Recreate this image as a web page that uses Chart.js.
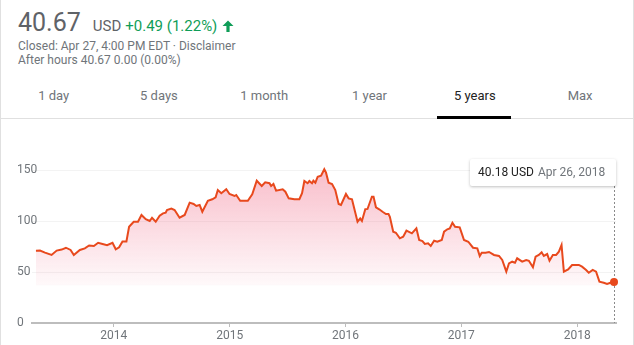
<!DOCTYPE html>
<html lang="en">
<head>
<meta charset="UTF-8">
<title>Stock price - 5 years</title>
<style>
  body { margin: 0; background: #fff; font-family: Roboto, Arial, sans-serif; }
  .card { position: relative; width: 632px; height: 345px; border-left: 1px solid #e0e0e0; border-right: 1px solid #e0e0e0; overflow: hidden; }
  .quote { position: absolute; left: 17px; top: 7px; line-height: 32px; white-space: nowrap; }
  .quote .price { font-size: 25px; color: #5f6368; }
  .quote .cur { font-size: 15px; color: #5f6368; margin-left: 12px; }
  .quote .chg { font-size: 15px; color: #0f9d58; margin-left: 4px; }
  .quote svg { vertical-align: -1px; margin-left: 5px; }
  .meta { position: absolute; left: 17px; top: 38.6px; font-size: 12px; line-height: 14.5px; color: #70757a; white-space: nowrap; }
  .tabs { position: absolute; left: 0; top: 76px; width: 632px; height: 40px; display: flex; }
  .tabs div { width: 105.3px; text-align: center; font-size: 13px; line-height: 40px; color: #70757a; }
  .tabs div.on { color: #222; }
  .underline { position: absolute; left: 436px; top: 116px; width: 74px; height: 3px; background: #000; }
  .divider { position: absolute; left: 0; top: 118px; width: 632px; height: 1px; background: #e0e0e0; }
  #chart-wrap { position: absolute; left: -1px; top: 125px; width: 634px; height: 220px; }
  .tip { position: absolute; left: 469px; top: 159px; width: 146px; height: 27px; background: #fff; border-radius: 2px;
         box-shadow: 0 1px 3px rgba(0,0,0,0.25); font-size: 12px; line-height: 27px; white-space: nowrap; box-sizing: border-box; padding-left: 8px; }
  .tip .v { color: #222; }
  .tip .d { color: #70757a; margin-left: 4px; }
</style>
<script src="https://cdn.jsdelivr.net/npm/chart.js@4"></script>
</head>
<body>
<div class="card">
  <div class="quote">
    <span class="price">40.67</span><span class="cur">USD</span><span class="chg">+0.49 (1.22%)</span><svg width="12" height="12" viewBox="0 0 12 12"><path fill="#0f9d58" d="M6 0.5L11.5 6H7.6V12H4.4V6H0.5Z"/></svg>
  </div>
  <div class="meta">
    <div>Closed: Apr 27, 4:00 PM EDT · Disclaimer</div>
    <div>After hours 40.67 0.00 (0.00%)</div>
  </div>
  <div class="tabs">
    <div>1 day</div><div>5 days</div><div>1 month</div><div>1 year</div><div class="on">5 years</div><div>Max</div>
  </div>
  <div class="divider"></div>
  <div class="underline"></div>
  <div id="chart-wrap"><canvas id="chart"></canvas></div>
  <div class="tip" id="tip"><span class="v">40.18 USD</span><span class="d">Apr 26, 2018</span></div>
</div>

<script>
  // dates as decimal years
  const years = [
    2013.328, 2013.363, 2013.406, 2013.463, 2013.507, 2013.550, 2013.587, 2013.627, 2013.655, 2013.707,
    2013.750, 2013.787, 2013.828, 2013.865, 2013.903, 2013.942, 2013.989, 2014.017, 2014.046, 2014.075,
    2014.109, 2014.132, 2014.172, 2014.209, 2014.239, 2014.276, 2014.310, 2014.330, 2014.362, 2014.396,
    2014.425, 2014.448, 2014.459, 2014.497, 2014.525, 2014.568, 2014.612, 2014.655, 2014.689, 2014.712,
    2014.741, 2014.764, 2014.812, 2014.850, 2014.879, 2014.898, 2014.928, 2014.971, 2014.999, 2015.042,
    2015.057, 2015.091, 2015.157, 2015.195, 2015.234, 2015.277, 2015.307, 2015.344, 2015.358, 2015.378,
    2015.401, 2015.458, 2015.481, 2015.510, 2015.559, 2015.602, 2015.625, 2015.645, 2015.673, 2015.688,
    2015.711, 2015.723, 2015.740, 2015.760, 2015.789, 2015.817, 2015.832, 2015.854, 2015.884, 2015.912,
    2015.941, 2015.961, 2016.004, 2016.027, 2016.056, 2016.104, 2016.127, 2016.142, 2016.171, 2016.190,
    2016.228, 2016.242, 2016.263, 2016.291, 2016.320, 2016.349, 2016.371, 2016.383, 2016.412, 2016.435,
    2016.469, 2016.498, 2016.526, 2016.573, 2016.612, 2016.636, 2016.664, 2016.685, 2016.713, 2016.736,
    2016.765, 2016.793, 2016.831, 2016.851, 2016.879, 2016.900, 2016.923, 2016.946, 2016.986, 2017.023,
    2017.060, 2017.101, 2017.138, 2017.159, 2017.176, 2017.210, 2017.239, 2017.282, 2017.325, 2017.353,
    2017.388, 2017.411, 2017.439, 2017.463, 2017.482, 2017.525, 2017.560, 2017.583, 2017.618, 2017.641,
    2017.669, 2017.693, 2017.712, 2017.741, 2017.761, 2017.790, 2017.818, 2017.842, 2017.865, 2017.885,
    2017.922, 2017.956, 2018.014, 2018.042, 2018.077, 2018.100, 2018.134, 2018.163, 2018.192, 2018.229,
    2018.258, 2018.287, 2018.318
  ];
  const prices = [
    70.9, 71.0, 69.0, 66.7, 71.0, 72.0, 73.8, 71.6, 66.7, 71.6,
    73.2, 76.0, 75.5, 78.7, 77.5, 76.2, 78.7, 72.3, 74.2, 80.0,
    80.0, 94.4, 99.3, 99.3, 105.9, 101.7, 100.0, 103.2, 99.3, 105.2,
    107.5, 108.2, 110.8, 112.1, 110.8, 103.2, 105.9, 118.0, 116.7, 114.7,
    115.7, 109.1, 119.9, 121.3, 123.2, 130.4, 127.2, 131.1, 126.5, 124.5,
    125.5, 119.9, 119.9, 126.2, 139.5, 134.3, 137.9, 137.0, 134.3, 136.3,
    129.7, 131.1, 128.7, 122.2, 121.3, 121.3, 127.2, 139.2, 137.0, 139.2,
    137.0, 139.5, 137.6, 143.4, 144.4, 150.7, 147.4, 137.6, 136.3, 130.4,
    116.7, 115.7, 126.5, 122.2, 121.3, 99.3, 102.6, 100.0, 111.5, 111.8,
    123.8, 123.8, 113.4, 111.5, 109.1, 106.9, 106.9, 104.2, 89.5, 88.5,
    83.0, 84.6, 90.5, 87.9, 92.8, 81.4, 80.4, 77.5, 78.1, 75.5,
    80.7, 79.7, 81.4, 89.5, 91.9, 92.8, 98.3, 94.4, 93.8, 81.4,
    79.7, 73.8, 73.2, 65.7, 68.9, 68.9, 69.6, 66.7, 65.7, 61.8,
    50.3, 58.5, 60.1, 59.1, 63.4, 60.1, 61.8, 61.0, 54.6, 65.0,
    66.7, 69.3, 65.7, 67.6, 61.1, 66.7, 66.7, 69.9, 76.5, 50.3,
    52.6, 56.9, 56.9, 55.2, 52.0, 49.3, 52.0, 50.3, 40.5, 39.5,
    38.2, 39.5, 40.18
  ];
  const yearTicks = [2014, 2015, 2016, 2017, 2018];
  const priceTicks = [0, 50, 100, 150];

  const lineColor = '#e8491d';
  const fillFloor = 37;
  const last = prices.length - 1;

  // dotted guide from the tooltip down to the axis at the last point
  const guideLine = {
    id: 'guideLine',
    afterDatasetsDraw(chart) {
      const pt = chart.getDatasetMeta(0).data[last];
      const tip = document.getElementById('tip');
      const wrap = document.getElementById('chart-wrap');
      const y0 = tip.offsetTop + tip.offsetHeight - wrap.offsetTop;
      const c = chart.ctx;
      c.save();
      c.strokeStyle = '#8a8a8a';
      c.lineWidth = 1;
      c.setLineDash([2, 2]);
      c.beginPath();
      c.moveTo(Math.round(pt.x) + 0.5, y0);
      c.lineTo(Math.round(pt.x) + 0.5, chart.chartArea.bottom);
      c.stroke();
      c.restore();
      // redraw the end marker on top of the guide
      c.save();
      c.fillStyle = lineColor;
      c.beginPath();
      c.arc(pt.x, pt.y, 4, 0, Math.PI * 2);
      c.fill();
      c.restore();
    }
  };

  new Chart(document.getElementById('chart'), {
    type: 'line',
    data: {
      datasets: [{
        data: years.map((x, i) => ({ x: x, y: prices[i] })),
        borderColor: lineColor,
        borderWidth: 2,
        tension: 0,
        clip: 8,
        fill: { value: fillFloor },
        backgroundColor: function (ctx) {
          const chart = ctx.chart;
          const area = chart.chartArea;
          if (!area) return 'rgba(0,0,0,0)';
          const g = chart.ctx.createLinearGradient(0, area.top, 0, chart.scales.y.getPixelForValue(fillFloor));
          g.addColorStop(0, 'rgba(240,100,130,0.45)');
          g.addColorStop(1, 'rgba(240,100,130,0.04)');
          return g;
        },
        pointRadius: 0
      }]
    },
    options: {
      responsive: true,
      maintainAspectRatio: false,
      animation: false,
      layout: { padding: { left: 17, right: 18, top: 34.8, bottom: 0 } },
      plugins: { legend: { display: false }, tooltip: { enabled: false } },
      scales: {
        x: {
          type: 'linear',
          min: 2013.294,
          max: 2018.335,
          afterBuildTicks: s => { s.ticks = yearTicks.map(v => ({ value: v })); },
          afterFit: s => { s.height = 22; },
          grid: { drawOnChartArea: false, drawTicks: true, tickLength: 4, color: '#bdbdbd' },
          border: { display: true, color: '#bdbdbd', width: 2 },
          ticks: {
            color: '#70757a',
            font: { family: 'Roboto', size: 12 },
            padding: 2,
            maxRotation: 0,
            callback: v => String(v)
          }
        },
        y: {
          min: 0,
          max: 160,
          afterBuildTicks: s => { s.ticks = priceTicks.map(v => ({ value: v })); },
          afterFit: s => { s.width = 15; },
          grid: { color: '#f3f3f3', drawTicks: false },
          border: { display: false },
          ticks: {
            color: '#70757a',
            font: { family: 'Roboto', size: 12 },
            mirror: true,
            padding: -15
          }
        }
      }
    },
    plugins: [guideLine]
  });
</script>
</body>
</html>
